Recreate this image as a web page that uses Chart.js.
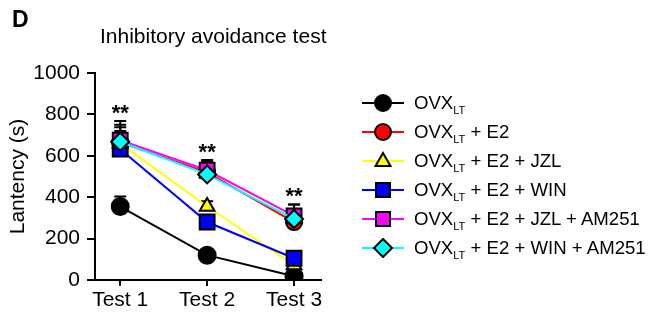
<!DOCTYPE html>
<html><head><meta charset="utf-8">
<script src="https://cdn.jsdelivr.net/npm/chart.js@4"></script>
<style>
body{margin:0;width:655px;height:314px;background:#fff;overflow:hidden;font-family:'Liberation Sans',Arial,sans-serif;position:relative;color:#000}
#wrap{position:absolute;left:0;top:0;width:655px;height:314px}
.panel{position:absolute;left:12px;top:8px;font-weight:bold;font-size:23px;line-height:1}
.title{position:absolute;left:100px;top:25px;font-size:21px;line-height:1;white-space:nowrap}
#legend{position:absolute;left:362px;top:88px}
.row{height:29px;display:flex;align-items:center;font-size:18.6px;white-space:nowrap}
.row svg{margin-right:10px;flex:none}
.row sub{font-size:11px;vertical-align:-5px;line-height:0}
</style></head>
<body>
<div id="wrap"><canvas id="c"></canvas></div>
<div class="panel">D</div>
<div class="title">Inhibitory avoidance test</div>
<div id="legend"></div>
<script>
const categories = ['Test 1', 'Test 2', 'Test 3'];
const yTicks = [0, 200, 400, 600, 800, 1000];
const seriesNames = ['', ' + E2', ' + E2 + JZL', ' + E2 + WIN', ' + E2 + JZL + AM251', ' + E2 + WIN + AM251'];
const ovx      = [355, 120, 18];
const ovxErr   = [48, 12, 8];
const e2       = [665, 520, 280];
const e2Err    = [85, 55, 85];
const jzl      = [660, 355, 72];
const jzlErr   = [60, 25, 10];
const win      = [632, 280, 105];
const winErr   = [50, 18, 15];
const jzlAm    = [675, 530, 310];
const jzlAmErr = [93, 50, 55];
const winAm    = [668, 510, 295];
const winAmErr = [70, 40, 40];
const stars = ['**', '**', '**'];

const colors = ['#000000', '#ff0000', '#ffff00', '#0000ff', '#ff00ff', '#00ffff'];
const styles = ['circle', 'circle', 'triangle', 'rect', 'rect', 'rectRot'];
const radii = [8.5, 8, 8.5, 10.5, 10.5, 9];
const values = [ovx, e2, jzl, win, jzlAm, winAm];
const errs = [ovxErr, e2Err, jzlErr, winErr, jzlAmErr, winAmErr];
const FONT = '"Liberation Sans", Arial, sans-serif';

const datasets = values.map((v, k) => ({
  label: 'OVXLT' + seriesNames[k],
  data: v.map((y, i) => ({x: i + 1, y})),
  err: errs[k],
  borderColor: colors[k],
  backgroundColor: colors[k],
  borderWidth: 2,
  pointStyle: styles[k],
  pointRadius: radii[k],
  pointBackgroundColor: colors[k],
  pointBorderColor: '#000',
  pointBorderWidth: 2,
  tension: 0,
  order: 5 - k
}));

const errPlugin = {
  id: 'errbars',
  beforeDatasetsDraw(chart) {
    const {ctx, scales: {x, y}} = chart;
    ctx.save();
    ctx.strokeStyle = '#000';
    ctx.lineWidth = 2;
    chart.data.datasets.forEach(ds => {
      ds.data.forEach((p, i) => {
        const px = x.getPixelForValue(p.x);
        const y0 = y.getPixelForValue(p.y);
        const y1 = y.getPixelForValue(p.y + ds.err[i]);
        ctx.beginPath();
        ctx.moveTo(px, y0); ctx.lineTo(px, y1);
        ctx.moveTo(px - 6, y1); ctx.lineTo(px + 6, y1);
        ctx.stroke();
      });
    });
    ctx.restore();
  },
  afterDatasetsDraw(chart) {
    const {ctx, scales: {x, y}} = chart;
    ctx.save();
    ctx.fillStyle = '#000';
    ctx.font = 'bold 22px ' + FONT;
    ctx.textAlign = 'center';
    ctx.textBaseline = 'alphabetic';
    stars.forEach((s, i) => {
      let top = 0;
      chart.data.datasets.forEach(ds => { top = Math.max(top, ds.data[i].y + ds.err[i]); });
      ctx.fillText(s, x.getPixelForValue(i + 1), y.getPixelForValue(top) - 1);
    });
    ctx.restore();
  }
};

new Chart(document.getElementById('c'), {
  type: 'line',
  data: {datasets},
  plugins: [errPlugin],
  options: {
    responsive: true,
    maintainAspectRatio: false,
    animation: false,
    layout: {padding: {left: 0, right: 334, top: 73, bottom: 0}},
    plugins: {legend: {display: false}, tooltip: {enabled: false}},
    scales: {
      x: {
        type: 'linear', min: 0.71, max: 3.31,
        afterBuildTicks: s => { s.ticks = categories.map((c, i) => ({value: i + 1})); },
        afterFit: s => { s.height = 34; },
        ticks: {callback: v => categories[v - 1], color: '#000', font: {size: 21, family: FONT}, padding: 2, maxRotation: 0, autoSkip: false},
        grid: {drawOnChartArea: false, drawTicks: true, tickLength: 6, color: '#000', lineWidth: 2},
        border: {display: true, color: '#000', width: 2}
      },
      y: {
        min: 0, max: 1000,
        afterBuildTicks: s => { s.ticks = yTicks.map(v => ({value: v})); },
        afterFit: s => { s.width = 95; },
        ticks: {callback: v => String(v), color: '#000', font: {size: 21, family: FONT}, padding: 7},
        grid: {drawOnChartArea: false, drawTicks: true, tickLength: 8, color: '#000', lineWidth: 2},
        border: {display: true, color: '#000', width: 2},
        title: {display: true, text: 'Lantency (s)', color: '#000', font: {size: 21, family: FONT}, padding: {top: 6, bottom: 0}}
      }
    }
  }
});

// HTML legend (needs subscripts)
const leg = document.getElementById('legend');
function marker(k) {
  const c = colors[k];
  let m;
  if (styles[k] === 'circle') m = `<circle cx="21" cy="10" r="8" fill="${c}" stroke="#000" stroke-width="2"/>`;
  else if (styles[k] === 'triangle') m = `<polygon points="21,2 28.5,15 13.5,15" fill="${c}" stroke="#000" stroke-width="2"/>`;
  else if (styles[k] === 'rect') m = `<rect x="14" y="3" width="14" height="14" fill="${c}" stroke="#000" stroke-width="2"/>`;
  else m = `<polygon points="21,1 30,10 21,19 12,10" fill="${c}" stroke="#000" stroke-width="2"/>`;
  return `<svg width="42" height="20" viewBox="0 0 42 20"><line x1="0" y1="10" x2="42" y2="10" stroke="${c}" stroke-width="2"/>${m}</svg>`;
}
seriesNames.forEach((n, k) => {
  const r = document.createElement('div');
  r.className = 'row';
  r.innerHTML = marker(k) + `<span>OVX<sub>LT</sub>${n}</span>`;
  leg.appendChild(r);
});
</script>
</body></html>
